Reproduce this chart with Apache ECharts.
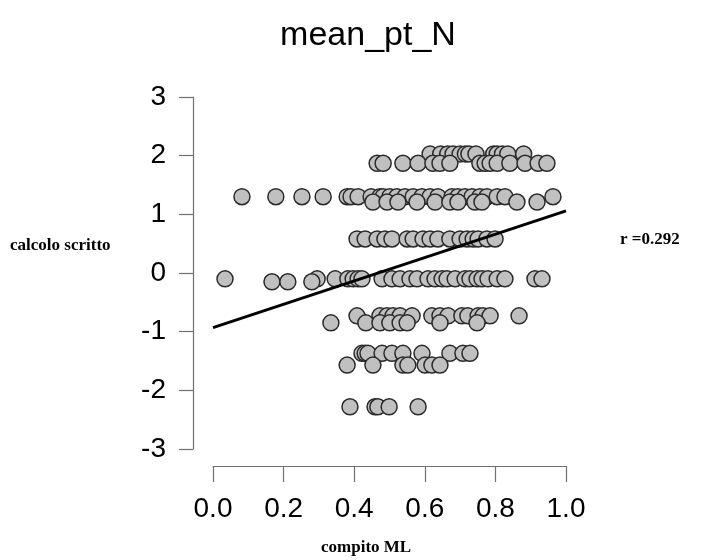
<!DOCTYPE html>
<html>
<head>
<meta charset="utf-8">
<script src="https://cdn.jsdelivr.net/npm/echarts@6/dist/echarts.min.js"></script>
<style>
  html, body { margin: 0; padding: 0; background: #fff; }
  #chart { width: 715px; height: 560px; }
</style>
</head>
<body>
<div id="chart"></div>
<script>
// Score levels of "calcolo scritto" and the "compito ML" values observed at each level
const yLevels = [2.03, 1.87, 1.30, 1.21, 0.58, -0.10, -0.15, -0.73, -0.85, -1.37, -1.57, -2.28];
const xAtLevel = [
  [0.615, 0.645, 0.665, 0.68, 0.70, 0.715, 0.725, 0.745, 0.795, 0.805, 0.82, 0.835, 0.88],
  [0.465, 0.482, 0.538, 0.581, 0.623, 0.643, 0.671, 0.756, 0.771, 0.785, 0.805, 0.841, 0.884, 0.921, 0.946],
  [0.082, 0.178, 0.252, 0.312, 0.380, 0.391, 0.411, 0.448, 0.473, 0.482, 0.501, 0.521, 0.544, 0.567, 0.592,
   0.615, 0.637, 0.677, 0.694, 0.714, 0.734, 0.756, 0.776, 0.805, 0.827, 0.963],
  [0.453, 0.493, 0.524, 0.578, 0.629, 0.671, 0.694, 0.742, 0.762, 0.861, 0.918],
  [0.408, 0.431, 0.465, 0.487, 0.507, 0.55, 0.567, 0.595, 0.615, 0.637, 0.671, 0.700, 0.720, 0.737, 0.751, 0.776, 0.799],
  [0.034, 0.295, 0.346, 0.382, 0.397, 0.411, 0.422, 0.479, 0.507, 0.530, 0.558, 0.578, 0.609, 0.629, 0.649,
   0.663, 0.686, 0.714, 0.728, 0.748, 0.762, 0.779, 0.805, 0.827, 0.912, 0.932],
  [0.167, 0.212, 0.280],
  [0.408, 0.473, 0.493, 0.510, 0.530, 0.564, 0.620, 0.643, 0.666, 0.705, 0.722, 0.751, 0.765, 0.785, 0.867],
  [0.334, 0.433, 0.473, 0.501, 0.530, 0.550, 0.643, 0.748],
  [0.422, 0.431, 0.439, 0.479, 0.507, 0.538, 0.592, 0.671, 0.708, 0.728],
  [0.380, 0.453, 0.538, 0.552, 0.601, 0.620, 0.643],
  [0.388, 0.459, 0.467, 0.499, 0.581]
];

// Least-squares fit line, evaluated at both ends of the x range
const fitX = [0.0, 1.0];
const fitY = [-0.93, 1.06];

const xTicks = [0.0, 0.2, 0.4, 0.6, 0.8, 1.0];
const yTicks = [-3, -2, -1, 0, 1, 2, 3];
const titleText = 'mean_pt_N';
const xName = 'compito ML';
const yName = 'calcolo scritto';
const rText = 'r =0.292';

const points = [];
yLevels.forEach((y, i) => xAtLevel[i].forEach(x => points.push([x, y])));
const fitLine = fitX.map((x, i) => [x, fitY[i]]);

const chart = echarts.init(document.getElementById('chart'), null, { renderer: 'canvas' });
const axisGray = '#707070';
const numFont = '"Liberation Sans", Arial, sans-serif';
const serifFont = '"Liberation Serif", "Times New Roman", serif';

chart.setOption({
  animation: false,
  backgroundColor: '#ffffff',
  title: {
    text: titleText,
    left: 363, top: 14,
    textAlign: 'center',
    textStyle: { fontFamily: numFont, fontSize: 34, fontWeight: 'normal', color: '#000' }
  },
  grid: { left: 213, right: 149, top: 97, bottom: 111, containLabel: false },
  xAxis: {
    type: 'value',
    min: xTicks[0], max: xTicks[xTicks.length - 1], interval: 0.2,
    offset: 17,
    axisLine: { show: true, onZero: false, lineStyle: { color: axisGray, width: 1.2 } },
    axisTick: { show: true, length: 16, lineStyle: { color: axisGray, width: 1.2 } },
    axisLabel: {
      margin: 29, color: '#000', fontFamily: numFont, fontSize: 28,
      formatter: v => v.toFixed(1)
    },
    splitLine: { show: false }
  },
  yAxis: {
    type: 'value',
    min: yTicks[0], max: yTicks[yTicks.length - 1], interval: 1,
    offset: 20,
    axisLine: { show: true, onZero: false, lineStyle: { color: axisGray, width: 1.2 } },
    axisTick: { show: true, length: 14, lineStyle: { color: axisGray, width: 1.2 } },
    axisLabel: { margin: 27, color: '#000', fontFamily: numFont, fontSize: 28 },
    splitLine: { show: false }
  },
  graphic: [
    { type: 'text', left: 10, top: 237,
      style: { text: yName, font: 'bold 17px ' + serifFont, fill: '#000' } },
    { type: 'text', left: 620, top: 231,
      style: { text: rText, font: 'bold 17px ' + serifFont, fill: '#000' } },
    { type: 'text', left: 321, top: 539,
      style: { text: xName, font: 'bold 17px ' + serifFont, fill: '#000' } }
  ],
  series: [
    {
      type: 'scatter',
      data: points,
      symbol: 'circle',
      symbolSize: 16,
      itemStyle: { color: '#c0c0c0', borderColor: '#2a2a2a', borderWidth: 1.5, opacity: 1 },
      z: 2
    },
    {
      type: 'line',
      data: fitLine,
      symbol: 'none',
      lineStyle: { color: '#000', width: 3 },
      z: 3
    }
  ]
});
</script>
</body>
</html>
